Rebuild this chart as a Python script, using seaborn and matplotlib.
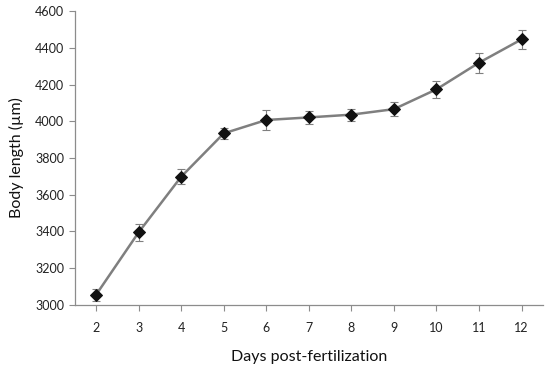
import numpy as np
import pandas as pd
import matplotlib
matplotlib.use("Agg")
import matplotlib.pyplot as plt
import seaborn as sns

# Data
days = [2, 3, 4, 5, 6, 7, 8, 9, 10, 11, 12]
body_length = [3055, 3395, 3698, 3934, 4007, 4021, 4036, 4066, 4174, 4319, 4446]
error = [33, 45, 41, 30, 54, 35, 33, 38, 46, 54, 50]

df = pd.DataFrame({"day": days, "length": body_length, "err": error})

sns.set_style("white")
plt.rcParams["font.family"] = ["Lato", "DejaVu Sans"]

fig = plt.figure(figsize=(5.5, 3.7), dpi=100)
ax = fig.add_axes([0.136, 0.176, 0.851, 0.794])

ax.errorbar(df["day"], df["length"], yerr=df["err"], fmt="none",
            ecolor="#7f7f7f", elinewidth=0.8, capsize=3, capthick=0.8, zorder=2)
sns.lineplot(data=df, x="day", y="length", ax=ax, color="#7f7f7f", linewidth=1.8,
             marker="D", markersize=6, markerfacecolor="#111111",
             markeredgecolor="#111111", zorder=3)

ax.set_xlim(1.5, 12.5)
ax.set_ylim(3000, 4600)
ax.set_xticks(days)
ax.set_yticks(range(3000, 4601, 200))
ax.tick_params(axis="both", direction="out", length=4, width=0.8, color="#8c8c8c",
               labelsize=9, labelcolor="#222222", bottom=True, left=True)
ax.tick_params(axis="x", pad=8)

for side in ["top", "right"]:
    ax.spines[side].set_visible(False)
for side in ["left", "bottom"]:
    ax.spines[side].set_color("#8c8c8c")
    ax.spines[side].set_linewidth(0.9)

ax.set_xlabel("Days post-fertilization", fontsize=11.5, color="#111111", labelpad=12)
ax.set_ylabel("Body length (µm)", fontsize=11.5, color="#111111", labelpad=8)

fig.savefig("out.png", dpi=100)
